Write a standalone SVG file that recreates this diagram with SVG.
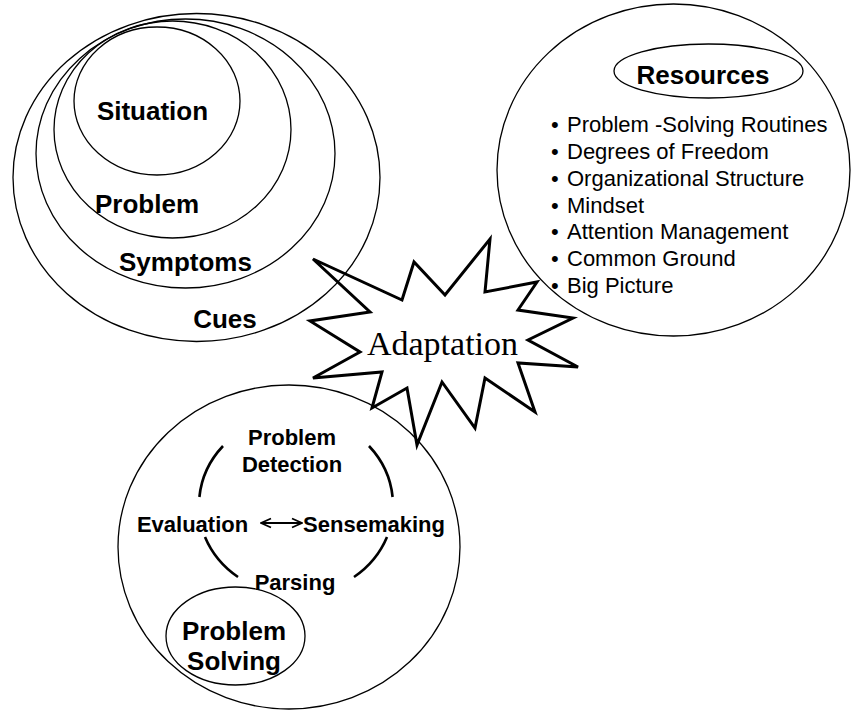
<svg xmlns="http://www.w3.org/2000/svg" width="851" height="713" viewBox="0 0 851 713">
<defs>
<style>
.ell{fill:none;stroke:#000;stroke-width:1.3}
.arc{fill:none;stroke:#000;stroke-width:2.6}
.b26{font-family:"Liberation Sans",Arial,sans-serif;font-weight:bold;font-size:26px;fill:#000;text-anchor:middle}
.b22{font-family:"Liberation Sans",Arial,sans-serif;font-weight:bold;font-size:22px;fill:#000;text-anchor:middle}
.r22{font-family:"Liberation Sans",Arial,sans-serif;font-size:22px;fill:#000}
.serif{font-family:"Liberation Serif","Times New Roman",serif;font-size:34px;fill:#000;text-anchor:middle}
</style>
<marker id="ah" viewBox="0 0 12 12" refX="11" refY="6" markerWidth="12" markerHeight="12" markerUnits="userSpaceOnUse" orient="auto-start-reverse">
<path d="M1,1.5 L11,6 L1,10.5" fill="none" stroke="#000" stroke-width="1.8"/>
</marker>
</defs>
<rect width="851" height="713" fill="#fff"/>
<g id="cues">
<ellipse class="ell" cx="196.5" cy="177.5" rx="183.5" ry="164"/>
<text class="b26" x="225" y="328">Cues</text>
</g>
<g id="symptoms">
<ellipse class="ell" cx="185.5" cy="153.5" rx="149.5" ry="134.5"/>
<text class="b26" x="185.5" y="271">Symptoms</text>
</g>
<g id="problem">
<ellipse class="ell" cx="172.5" cy="129.5" rx="118.5" ry="108.5"/>
<text class="b26" x="147" y="213">Problem</text>
</g>
<g id="situation">
<ellipse class="ell" cx="157" cy="101" rx="83" ry="74"/>
<text class="b26" x="152.5" y="120">Situation</text>
</g>
<g id="resources">
<ellipse class="ell" cx="673.5" cy="170" rx="176.5" ry="166"/>
<ellipse class="ell" cx="708.5" cy="71" rx="94.5" ry="27"/>
<text class="b26" x="703" y="84">Resources</text>
<text class="r22" x="551" y="132">•<tspan x="567">Problem -Solving Routines</tspan></text>
<text class="r22" x="551" y="159">•<tspan x="567">Degrees of Freedom</tspan></text>
<text class="r22" x="551" y="186">•<tspan x="567">Organizational Structure</tspan></text>
<text class="r22" x="551" y="213">•<tspan x="567">Mindset</tspan></text>
<text class="r22" x="551" y="239">•<tspan x="567">Attention Management</tspan></text>
<text class="r22" x="551" y="266">•<tspan x="567">Common Ground</tspan></text>
<text class="r22" x="551" y="293">•<tspan x="567">Big Picture</tspan></text>
</g>
<g id="problem-solving-cycle">
<ellipse class="ell" cx="289" cy="547" rx="171" ry="162"/>
<path class="arc" d="M223,446 A97,90 0 0 0 199.4,497"/>
<path class="arc" d="M369,446 A97,90 0 0 1 392.6,497"/>
<path class="arc" d="M205,537 A97,90 0 0 0 238,577"/>
<path class="arc" d="M387,537 A97,90 0 0 1 354,577"/>
<text class="b22" x="292" y="445">Problem</text>
<text class="b22" x="292" y="472">Detection</text>
<text class="b22" x="192.5" y="532">Evaluation</text>
<text class="b22" x="374" y="532">Sensemaking</text>
<text class="b22" x="295" y="590">Parsing</text>
</g>
<g id="problem-solving">
<ellipse class="ell" cx="235.5" cy="636" rx="69.5" ry="49"/>
<text class="b26" x="234" y="640">Problem</text>
<text class="b26" x="234" y="670">Solving</text>
</g>
<g id="adaptation">
<polygon points="313,259 402,300 414,262 445,295 490,239 485,292 537,282 518,310 573,318 528,340 578,367 518,363 535,412 485,378 475,428 442,382 417,445 407,388 372,408 382,372 313,378 360,352 310,321 370,312" fill="none" stroke="#000" stroke-width="3" stroke-linejoin="miter"/>
<text class="serif" x="442.5" y="355">Adaptation</text>
</g>
<g id="connectors">
<line x1="261" y1="523" x2="302" y2="523" stroke="#000" stroke-width="1.8" marker-start="url(#ah)" marker-end="url(#ah)"/>
</g>
</svg>
